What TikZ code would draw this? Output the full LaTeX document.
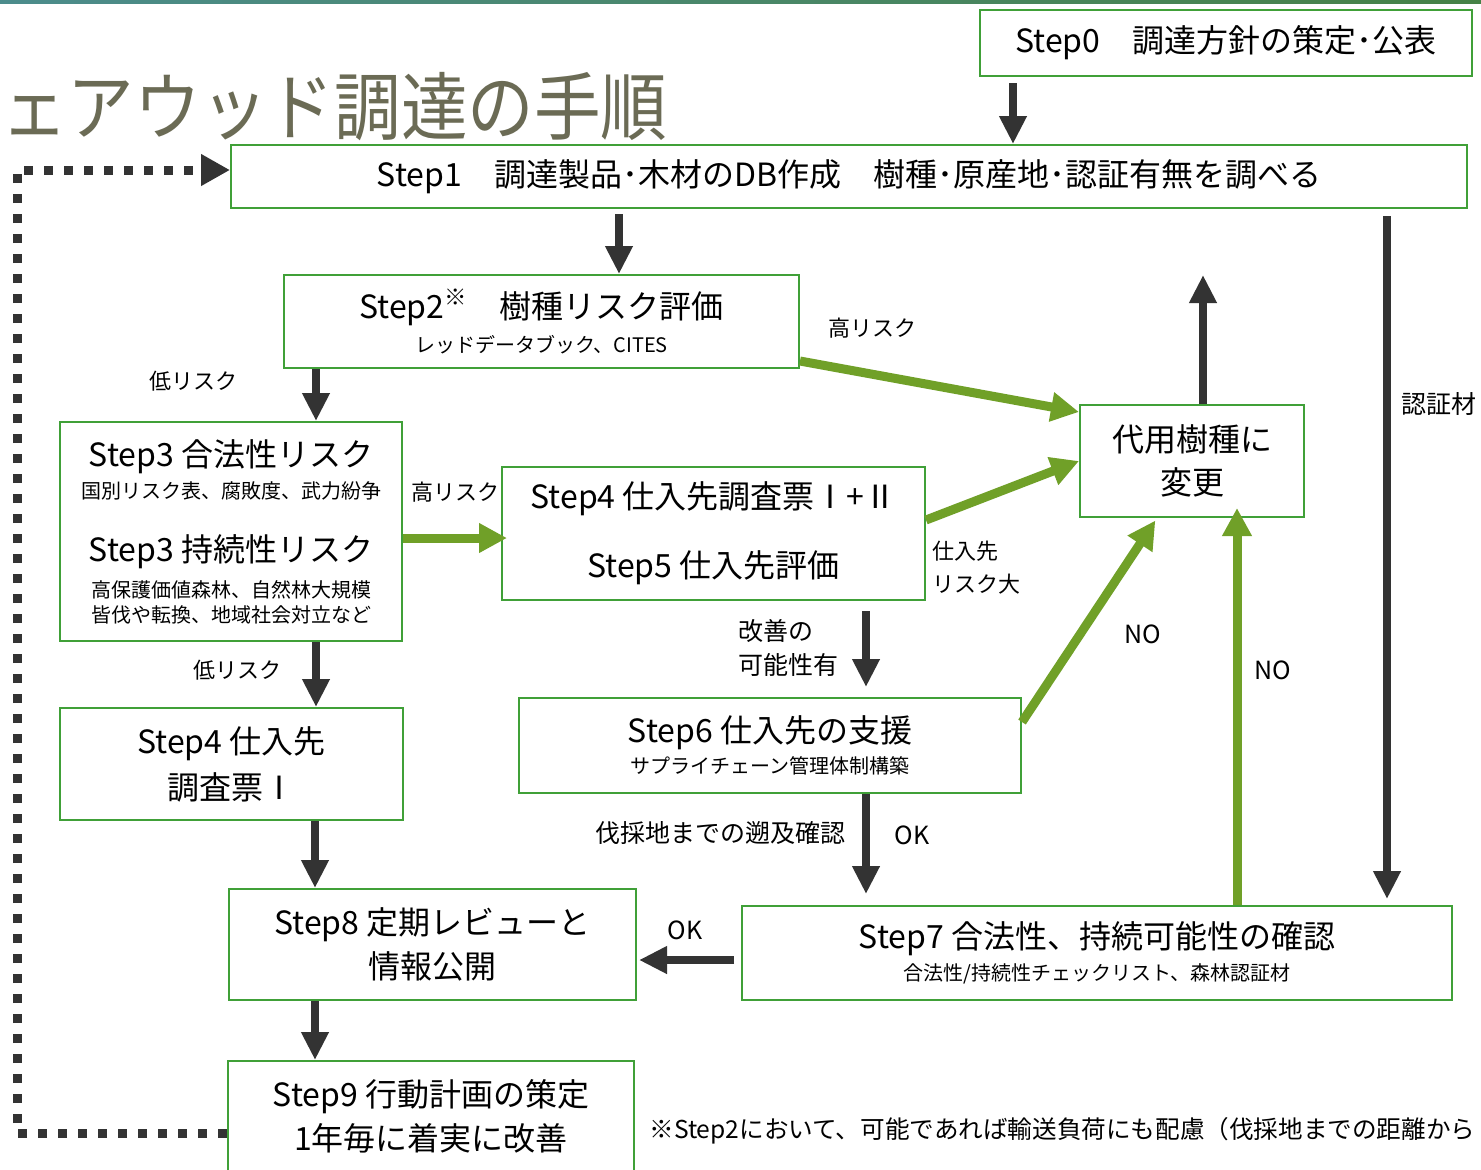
\documentclass[tikz,border=0pt]{standalone}
\usepackage{fontspec}
\setmainfont{Noto Sans CJK JP}
\usepackage{graphicx}
\usetikzlibrary{arrows.meta}

\definecolor{boxgreen}{RGB}{64,160,56}
\definecolor{arrgreen}{RGB}{112,160,40}
\definecolor{arrgray}{RGB}{51,51,51}
\definecolor{titlegray}{RGB}{107,107,85}
\definecolor{topteal}{RGB}{76,140,140}
\definecolor{topgreen}{RGB}{108,168,60}
\definecolor{topdark}{RGB}{70,130,70}

\newcommand{\bigtxt}{\fontsize{16}{22}\selectfont}
\newcommand{\smalltxt}{\fontsize{10}{13}\selectfont}
\newcommand{\lbltxt}{\fontsize{11}{16.5}\selectfont}
\newcommand{\midtxt}{\fontsize{12.5}{17}\selectfont}

\tikzset{
  stepbox/.style={draw=boxgreen, line width=1pt, fill=white, align=center, inner sep=0pt, font=\bigtxt},
  darr/.style={draw=arrgray, line width=4pt, -{Triangle[width=13pt,length=14pt]}},
  garr/.style={draw=arrgreen, line width=4.5pt, -{Triangle[width=14pt,length=14pt]}},
  lbl/.style={inner sep=0pt, align=left},
}

\begin{document}
\begin{tikzpicture}[x=0.5pt, y=-0.5pt]
  % canvas, 1 unit = 1 pixel of the slide
  \useasboundingbox (0,0) rectangle (1481,1169);
  \fill[white] (0,0) rectangle (1481,1169);
  \shade[left color=topteal, middle color=topgreen, right color=topdark] (0,0) rectangle (1481,3);

  % title
  \node[anchor=west, inner sep=0pt, text=titlegray, font=\fontsize{37}{40}\selectfont] (title) at (1,107) {\scalebox{0.9}[1]{ェアウッド調達の手順}};

  % steps
  \node[stepbox, minimum width=246pt, minimum height=33pt] (step0) at (1226,43) {Step0　調達方針の策定･公表};
  \node[stepbox, minimum width=618pt, minimum height=31.5pt] (step1) at (849,176.5) {Step1　調達製品･木材のDB作成　樹種･原産地･認証有無を調べる};
  \node[stepbox, minimum width=257.5pt, minimum height=46.5pt] (step2) at (541.5,321.5) {Step2\textsuperscript{※}　樹種リスク評価\\[-5pt]{\smalltxt レッドデータブック、CITES}};
  \node[stepbox, minimum width=171pt, minimum height=109.5pt] (step3) at (231,531.5) {Step3 合法性リスク\\[-6pt]{\smalltxt 国別リスク表、腐敗度、武力紛争}\\[9.5pt]Step3 持続性リスク\\[-4pt]{\smalltxt 高保護価値森林、自然林大規模}\\[-9.5pt]{\smalltxt 皆伐や転換、地域社会対立など}};
  \node[stepbox, minimum width=211.5pt, minimum height=66.5pt] (step45) at (713.5,533.5) {Step4 仕入先調査票Ⅰ+Ⅱ\\[12.5pt]Step5 仕入先評価};
  \node[stepbox, minimum width=112pt, minimum height=56pt] (alt) at (1192,461) {代用樹種に\\[-0.5pt]変更};
  \node[stepbox, minimum width=171.5pt, minimum height=56pt] (step4b) at (231.5,764) {Step4 仕入先\\[1pt]調査票Ⅰ};
  \node[stepbox, minimum width=251pt, minimum height=47.5pt] (step6) at (770,745.5) {Step6 仕入先の支援\\[-6.5pt]{\smalltxt サプライチェーン管理体制構築}};
  \node[stepbox, minimum width=355pt, minimum height=47pt] (step7) at (1097,953) {Step7 合法性、持続可能性の確認\\[-6pt]{\smalltxt 合法性/持続性チェックリスト、森林認証材}};
  \node[stepbox, minimum width=203.5pt, minimum height=55.5pt] (step8) at (432.5,944.5) {Step8 定期レビューと\\情報公開};
  \node[stepbox, minimum width=203pt, minimum height=55pt] (step9) at (431,1116) {Step9 行動計画の策定\\1年毎に着実に改善};

  % labels
  \node[lbl, font=\lbltxt] (hi1) at (872,328) {高リスク};
  \node[lbl, font=\lbltxt] (lo1) at (193,381) {低リスク};
  \node[lbl, font=\lbltxt] (hi2) at (455,492) {高リスク};
  \node[lbl, font=\lbltxt] (lo2) at (237,670) {低リスク};
  \node[lbl, font=\lbltxt, anchor=west] (riskbig) at (932,568) {仕入先\\リスク大};
  \node[lbl, font=\midtxt, anchor=west] (kaizen) at (738,648) {改善の\\可能性有};
  \node[lbl, font=\midtxt] (no1) at (1143,634) {NO};
  \node[lbl, font=\midtxt] (no2) at (1273,670) {NO};
  \node[lbl, font=\midtxt, anchor=west] (ninsho) at (1401,404) {認証材};
  \node[lbl, font=\midtxt] (sokyu) at (720,833) {伐採地までの遡及確認};
  \node[lbl, font=\midtxt] (ok1) at (912,835) {OK};
  \node[lbl, font=\midtxt] (ok2) at (685,930) {OK};
  \node[lbl, font=\fontsize{12.3}{14}\selectfont, anchor=west] (note) at (649,1131) {※Step2において、可能であれば輸送負荷にも配慮（伐採地までの距離から};

  % dark arrows
  \draw[darr, shorten <=3pt] (step0.south -| 1013,0) -- (step1.north -| 1013,0);
  \draw[darr, shorten <=2.5pt] (step1.south -| 619,0) -- (step2.north -| 619,0);
  \draw[darr] (step2.south -| 316,0) -- (step3.north -| 316,0);
  \draw[darr] (step3.south -| 316,0) -- (step4b.north -| 316,0);
  \draw[darr] (step4b.south -| 315,0) -- (step8.north -| 315,0);
  \draw[darr] (step8.south -| 315,0) -- (step9.north -| 315,0);
  \draw[darr, shorten <=5pt, shorten >=5pt] (step45.south -| 866,0) -- (step6.north -| 866,0);
  \draw[darr, shorten >=5.5pt] (step6.south -| 866,0) -- (step7.north -| 866,0);
  \draw[darr, shorten <=3.5pt, shorten >=1pt] (step7.west |- 0,960) -- (step8.east |- 0,960);
  \coordinate (altup) at (1203,275);
  \draw[darr] (alt.north -| 1203,0) -- (altup);
  \draw[darr, shorten <=3.5pt, shorten >=3pt] (step1.south -| 1387,0) -- (step7.north -| 1387,0);

  % green arrows
  \draw[garr] ([yshift=4pt]step2.south east) -- ([yshift=-4pt]alt.north west);
  \draw[garr, shorten >=-3pt] (step3.east |- 0,538) -- (step45.west |- 0,538);
  \draw[garr] (step45.east |- 0,520) -- (alt.west);
  \draw[garr, shorten >=1.5pt] (step6.east |- 0,722) -- (alt.south -| 1157,0);
  \draw[garr, shorten >=-5pt] (step7.north -| 1237,0) -- (alt.south -| 1237,0);

  % yearly loop back to step1
  \coordinate (loopbot) at (17,1133);
  \coordinate (looptop) at (17,170);
  \draw[draw=arrgray, line width=4.5pt, dash pattern=on 4.5pt off 5.5pt, -{Triangle[width=15pt,length=14.5pt]}] (step9.west |- loopbot) -- (loopbot) -- (looptop) -- (step1.west |- looptop);
\end{tikzpicture}
\end{document}
